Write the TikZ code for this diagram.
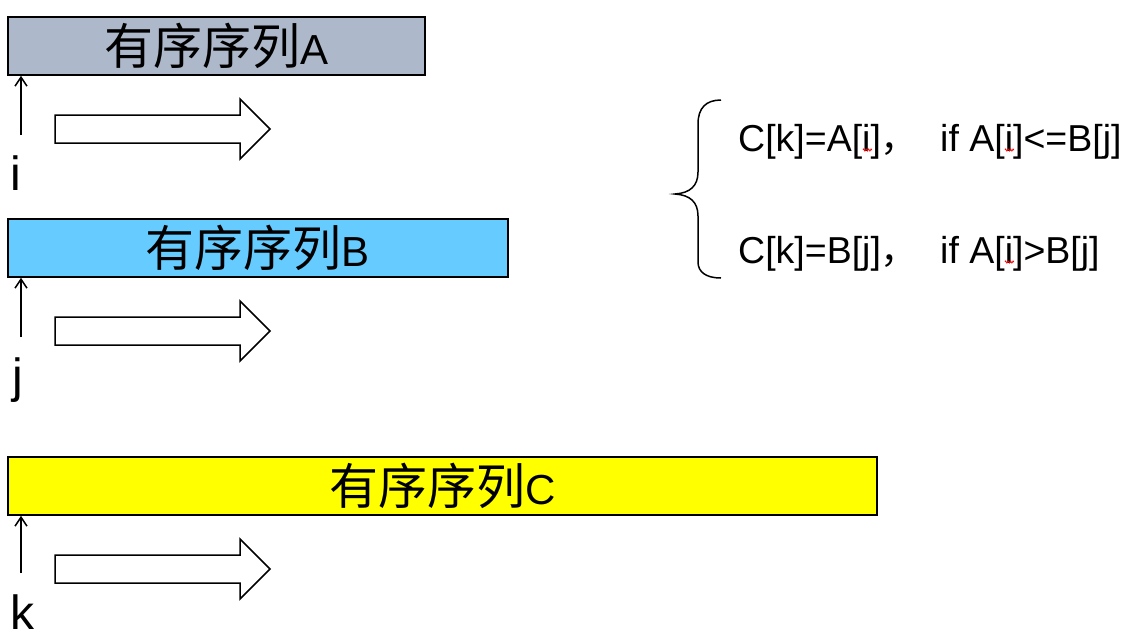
\documentclass[tikz,border=0pt]{standalone}
\usepackage{fontspec}
\setmainfont{Liberation Sans}
\newfontfamily\cjk{Noto Sans CJK SC}
\usetikzlibrary{arrows.meta,decorations.pathmorphing}
\definecolor{colA}{HTML}{ADB9CA}
\definecolor{colB}{HTML}{66CCFF}
\definecolor{colC}{HTML}{FFFF00}
\newcommand\seqtext[1]{{\cjk\fontsize{49}{52}\selectfont 有序序列}{\fontsize{42}{46}\selectfont #1}}
\begin{document}
\begin{tikzpicture}[x=1pt,y=-1pt,
  seqbox/.style={draw, line width=1.6pt, minimum height=58pt, inner sep=0pt, anchor=center},
  uparrow/.style={line width=1.5pt, -{Straight Barb[length=9pt,width=12pt,line width=1.5pt]}},
  blockarrow/.style={draw, line width=1.5pt, fill=white, line join=miter},
  idx/.style={inner sep=0pt, anchor=base west, font=\fontsize{48}{50}\selectfont},
  formula/.style={inner sep=0pt, anchor=base west, font=\fontsize{37.5}{44}\selectfont},
  squig/.style={draw=red, line width=0.8pt, decorate, decoration={zigzag, segment length=2.5pt, amplitude=1pt}},
  bracestyle/.style={line width=1.5pt}]
\useasboundingbox (0,0) rectangle (1121,633);
% boxes
\node[seqbox, fill=colA, minimum width=417pt] (A) at (216.5,46) {\seqtext{A}};
\node[seqbox, fill=colB, minimum width=500pt] (B) at (258,248) {\seqtext{B}};
\node[seqbox, fill=colC, minimum width=869pt] (C) at (442.5,486) {\seqtext{C}};
% pointer arrows
\coordinate (pi) at (21,135);
\coordinate (pj) at (21,337);
\coordinate (pk) at (21,573);
\draw[uparrow] (pi) -- (pi |- A.south);
\draw[uparrow] (pj) -- (pj |- B.south);
\draw[uparrow] (pk) -- (pk |- C.south);
\node[idx] (li) at (10,190) {i};
\node[idx] (lj) at (12,392) {j};
\node[idx] (lk) at (10,629) {k};
% block arrows
\foreach \d in {0,202,440}{
  \draw[blockarrow] (55,115+\d) -- (240,115+\d) -- (240,99+\d) -- (270,129+\d)
     -- (240,159+\d) -- (240,143+\d) -- (55,143+\d) -- cycle;
}
% brace
\draw[bracestyle] (721,100) .. controls (706,100) and (698,108) .. (698,124) -- (698,172)
  .. controls (698,186) and (690,193) .. (675,194)
  .. controls (690,195) and (698,202) .. (698,216) -- (698,262)
  .. controls (698,272) and (706,278) .. (721,278);
% formulas
\node[formula] (f1a) at (738,151) {C[k]=A[i]{\cjk ，}};
\node[formula] (f1b) at (940,151) {if A[i]<=B[j]};
\node[formula] (f2a) at (738,263) {C[k]=B[j]{\cjk ，}};
\node[formula] (f2b) at (940,263) {if A[i]>B[j]};
\draw[squig] (863,150) -- (872,150);
\draw[squig] (1005,150) -- (1014,150);
\draw[squig] (1005,262) -- (1014,262);
\end{tikzpicture}
\end{document}
